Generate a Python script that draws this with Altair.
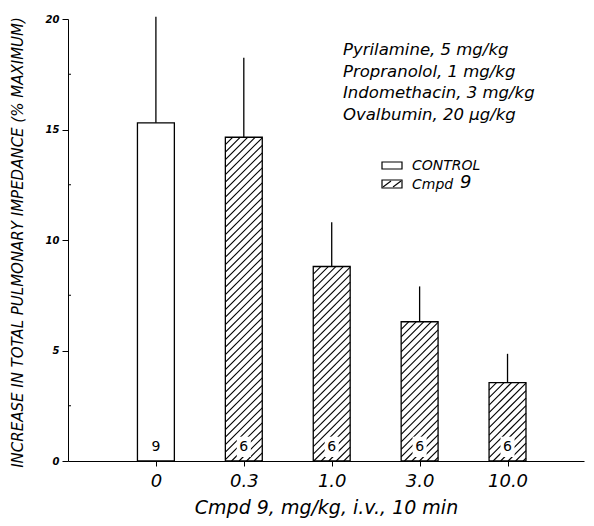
import altair as alt
import pandas as pd

# ---- data ----
doses = ["0", "0.3", "1.0", "3.0", "10.0"]
groups = ["CONTROL", "Cmpd 9", "Cmpd 9", "Cmpd 9", "Cmpd 9"]
means = [15.3, 14.65, 8.8, 6.3, 3.55]
upper = [20.1, 18.25, 10.8, 7.9, 4.85]
counts = ["9", "6", "6", "6", "6"]
notes = ["Pyrilamine, 5 mg/kg", "Propranolol, 1 mg/kg",
         "Indomethacin, 3 mg/kg", "Ovalbumin, 20 µg/kg"]
y_ticks = [0, 5, 10, 15, 20]
y_minor = [2.5, 7.5, 12.5, 17.5]

# ---- layout / style ----
W, H = 516, 442
XDOM = [-1, 4.87]
YDOM = [0, 20]
HALF = 0.21           # half bar width (x units)
HATCH = 7.5           # hatch spacing in px
FONT = "DejaVu Sans"

kx = W / (XDOM[1] - XDOM[0])
ky = H / (YDOM[1] - YDOM[0])

bars = pd.DataFrame({
    "i": list(range(len(doses))),
    "dose": doses,
    "group": groups,
    "mean": means,
    "upper": upper,
    "n": counts,
})
bars["lo"] = bars["i"] - HALF
bars["hi"] = bars["i"] + HALF

# hatch segments for the Cmpd 9 bars (45 deg in pixel space), derived from the bars
segs = []
for _, r in bars.iterrows():
    if r["group"] != "Cmpd 9":
        continue
    Wpx = (r["hi"] - r["lo"]) * kx
    Hpx = r["mean"] * ky
    d = -Hpx
    while d < Wpx:
        u0 = max(0.0, d)
        u1 = min(Wpx, Hpx + d)
        if u1 - u0 > 0.5:
            segs.append({
                "x": r["lo"] + u0 / kx, "y": (u0 - d) / ky,
                "x2": r["lo"] + u1 / kx, "y2": (u1 - d) / ky,
            })
        d += HATCH
hatch = pd.DataFrame(segs)

xs = alt.Scale(domain=XDOM, nice=False, zero=False)
ys = alt.Scale(domain=YDOM, nice=False, zero=True)

label_expr = "[" + ",".join("'%s'" % d for d in doses) + "][datum.value]"

base = alt.Chart(bars)

bar_layer = base.mark_rect(fill="white", stroke="black", strokeWidth=1.3).encode(
    x=alt.X("lo:Q", scale=xs, axis=alt.Axis(
        values=list(range(len(doses))), labelExpr=label_expr,
        title="Cmpd 9, mg/kg, i.v., 10 min", grid=False,
        tickSize=5, tickColor="black", domainColor="black",
        labelFont=FONT, labelFontStyle="italic", labelFontSize=18,
        labelColor="black", labelPadding=6,
        titleFont=FONT, titleFontStyle="italic", titleFontSize=19,
        titleFontWeight="normal", titleColor="black",
        titleY=46, titleBaseline="middle")),
    x2="hi:Q",
    y=alt.Y("mean:Q", scale=ys, axis=alt.Axis(
        values=y_ticks, format="d", grid=False,
        tickSize=6, tickColor="black", domainColor="black",
        labelFont=FONT, labelFontStyle="italic", labelFontWeight="bold",
        labelFontSize=10, labelColor="black", labelPadding=3,
        title="INCREASE IN TOTAL PULMONARY IMPEDANCE (% MAXIMUM)",
        titleFont=FONT, titleFontStyle="italic", titleFontSize=15,
        titleFontWeight="normal", titleColor="black",
        titleX=-51, titleY=223, titleAngle=270,
        titleAlign="center", titleBaseline="middle")),
    y2=alt.Y2(datum=0),
)

hatch_layer = alt.Chart(hatch).mark_rule(color="black", strokeWidth=1.1).encode(
    x=alt.X("x:Q", scale=xs), y=alt.Y("y:Q", scale=ys),
    x2="x2:Q", y2="y2:Q",
)

err_layer = base.mark_rule(color="black", strokeWidth=1.3).encode(
    x=alt.X("i:Q", scale=xs), y=alt.Y("mean:Q", scale=ys), y2="upper:Q",
)

bg_layer = base.transform_filter("datum.group == 'Cmpd 9'").transform_calculate(
    bl="datum.i - 0.08", bh="datum.i + 0.08", y0="0.18", y1="1.1"
).mark_rect(fill="white").encode(
    x=alt.X("bl:Q", scale=xs), x2="bh:Q",
    y=alt.Y("y0:Q", scale=ys), y2="y1:Q",
)

n_layer = base.transform_calculate(yn="0.64").mark_text(
    font=FONT, fontSize=14, color="black", baseline="middle"
).encode(
    x=alt.X("i:Q", scale=xs), y=alt.Y("yn:Q", scale=ys), text="n:N",
)

minor_layer = alt.Chart(pd.DataFrame({"v": y_minor})).mark_rule(
    color="black", strokeWidth=1
).encode(
    y=alt.Y("v:Q", scale=ys), x=alt.value(0), x2=alt.value(3),
)

notes_layer = alt.Chart(pd.DataFrame({"a": [0]})).mark_text(
    text=notes, lineHeight=21.7, align="left", baseline="alphabetic",
    font=FONT, fontStyle="italic", fontSize=16.5, color="black",
).encode(x=alt.value(275), y=alt.value(36))

one = pd.DataFrame({"a": [0]})
leg_box1 = alt.Chart(one).mark_rect(
    fill="white", stroke="black", strokeWidth=1.2
).encode(x=alt.value(314), x2=alt.value(334), y=alt.value(143), y2=alt.value(150))
leg_box2 = alt.Chart(one).mark_rect(
    fill="white", stroke="black", strokeWidth=1.2
).encode(x=alt.value(314), x2=alt.value(334), y=alt.value(161), y2=alt.value(169))
leg_h1 = alt.Chart(one).mark_rule(color="black", strokeWidth=1.1).encode(
    x=alt.value(315), x2=alt.value(323), y=alt.value(168), y2=alt.value(162))
leg_h2 = alt.Chart(one).mark_rule(color="black", strokeWidth=1.1).encode(
    x=alt.value(325), x2=alt.value(333), y=alt.value(168), y2=alt.value(162))

leg_t1 = alt.Chart(one).mark_text(
    text="CONTROL", align="left", baseline="middle",
    font=FONT, fontStyle="italic", fontSize=14, color="black",
).encode(x=alt.value(344), y=alt.value(147))
leg_t2 = alt.Chart(one).mark_text(
    text="Cmpd", align="left", baseline="middle",
    font=FONT, fontStyle="italic", fontSize=14, color="black",
).encode(x=alt.value(344), y=alt.value(166))
leg_t3 = alt.Chart(one).mark_text(
    text="9", align="left", baseline="middle",
    font=FONT, fontStyle="italic", fontSize=18, color="black",
).encode(x=alt.value(392), y=alt.value(164))

chart = alt.layer(
    bar_layer, hatch_layer, err_layer, bg_layer, n_layer, minor_layer,
    notes_layer, leg_box1, leg_box2, leg_h1, leg_h2, leg_t1, leg_t2, leg_t3,
).properties(
    width=W, height=H, autosize="none",
    padding={"left": 60, "top": 11, "right": 2, "bottom": 57},
    background="white",
).configure_view(stroke=None)

chart.save("out.html", embed_options={"renderer": "svg", "actions": False})
